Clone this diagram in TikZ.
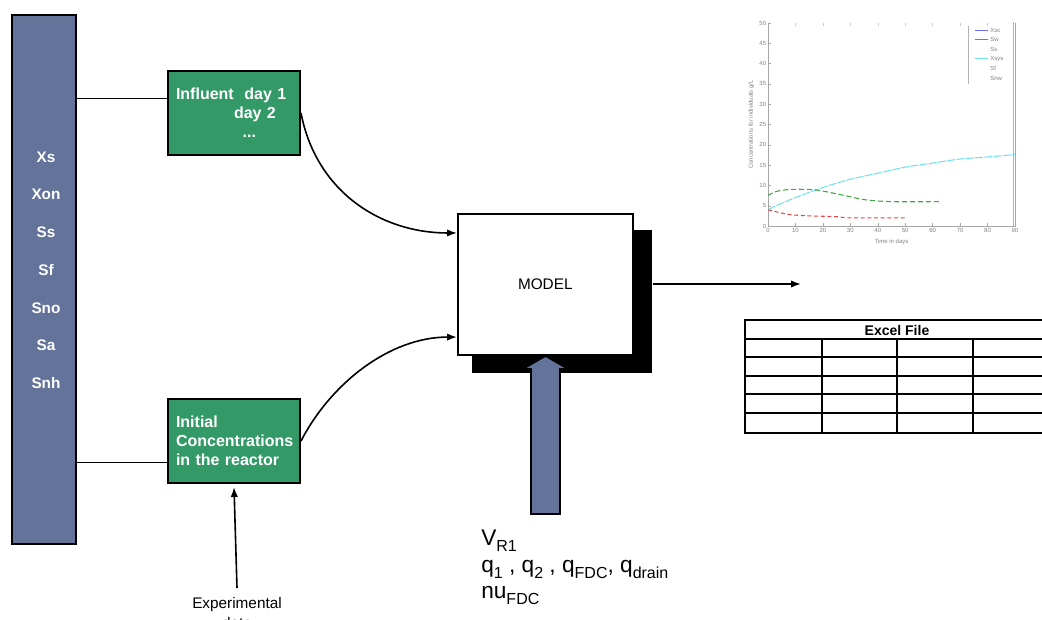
\documentclass[tikz,border=0pt]{standalone}
\usepackage{fontspec}
\setmainfont{Liberation Sans}
\usetikzlibrary{arrows.meta,calc}

\definecolor{barblue}{RGB}{99,115,154}
\definecolor{boxgreen}{RGB}{51,153,102}
\definecolor{curvecyan}{RGB}{110,225,235}
\definecolor{curvegreen}{RGB}{70,165,70}
\definecolor{curvered}{RGB}{235,70,70}
\definecolor{curveblue}{RGB}{110,110,235}

% lowered subscript in the parameter list
\newcommand{\lowsub}[1]{\raisebox{-5pt}{\fontsize{12}{13}\selectfont #1}}

\tikzset{
  varbar/.style={draw=black, line width=1.5pt, fill=barblue, anchor=north west, inner sep=0pt},
  varlabel/.style={text=white, font=\fontsize{11.5}{13}\selectfont\bfseries, inner sep=0pt},
  greenbox/.style={draw=black, line width=1.5pt, fill=boxgreen, anchor=north west,
    text=white, font=\fontsize{12}{14.25}\selectfont\bfseries, align=left,
    text width=87pt, inner xsep=6pt, inner ysep=0pt, minimum width=99pt, minimum height=63pt},
  modelbox/.style={draw=black, line width=1.2pt, fill=white, anchor=north west, inner sep=0pt,
    minimum width=131.25pt, minimum height=105.75pt, font=\fontsize{11.5}{13}\selectfont},
  shadowbox/.style={fill=black, anchor=north west, inner sep=0pt,
    minimum width=135pt, minimum height=107.25pt},
  conn/.style={line width=1.2pt, draw=black},
  arr/.style={conn, -{Latex[length=7.5pt,width=5.5pt]}},
  param/.style={anchor=base west, inner sep=0pt, font=\fontsize{17}{19}\selectfont},
  smalltxt/.style={inner sep=0pt, font=\fontsize{11.5}{15}\selectfont},
  tick/.style={inner sep=0pt, text=gray, font=\fontsize{4.5}{5}\selectfont},
  tbl/.style={line width=2.2pt, draw=black},
}

\begin{document}
\begin{tikzpicture}[x=0.75pt, y=-0.75pt]
\useasboundingbox (0,0) rectangle (1042,619);

% ---- state variables column ----
\node[varbar, minimum width=48pt, minimum height=396.75pt] (bar) at (11,14) {};
\foreach \name [count=\i from 0] in {Xs,Xon,Ss,Sf,Sno,Sa,Snh}
  \node[varlabel] (v\i) at (46,{157+37.7*\i}) {\name};

% ---- input boxes ----
\node[greenbox] (influent) at (167,70) {Influent\ \ day 1\\ \hspace*{43.5pt}day 2\\ \hspace*{50pt}...};
\node[greenbox] (initial) at (167,398) {Initial\\ Concentrations\\ in the reactor};

\coordinate (inA) at ($(influent.north west)!0.333!(influent.south west)$);
\coordinate (inB) at ($(initial.north west)!0.75!(initial.south west)$);
\draw[conn] (bar.east |- inA) -- (inA);
\draw[conn] (bar.east |- inB) -- (inB);

% ---- model block with its drop shadow ----
\node[shadowbox] (shadow) at (472,230) {};
\node[modelbox] (model) at (457,213) {MODEL};

\coordinate (mA) at ($(model.north west)!0.14!(model.south west)$);
\coordinate (mB) at ($(model.north west)!0.87!(model.south west)$);
\draw[arr] (influent.east) .. controls +(15,78) and +(-77,0) .. (mA);
\draw[arr] (initial.east) .. controls +(30,-58) and +(-67,0) .. (mB);

% ---- experimental data feed ----
\node[smalltxt, anchor=north, align=center] (expt) at (237,597) {Experimental\\data};
\draw[arr] ([yshift=6.75pt]expt.north) -- ([yshift=-2.25pt]initial.south);

% ---- parameter arrow ----
\draw[line width=1.2pt, fill=barblue] (531,514) -- (531,369) -- (523,369) -- (545.5,356)
  -- (568,369) -- (560,369) -- (560,514) -- cycle;
\node[param] (pV) at (481,545) {V\lowsub{R1}};
\node[param] (pQ) at (481,572) {q\lowsub{1} , q\lowsub{2} , q\lowsub{FDC}, q\lowsub{drain}};
\node[param] (pN) at (481,598) {nu\lowsub{FDC}};

% ---- output ----
\coordinate (outEnd) at (801,284);
\draw[arr] (shadow.east |- outEnd) -- (outEnd);

% ---- result plot ----
\begin{scope}[shift={(768,226)}, x=2.058pt, y=3.045pt]
  \draw[gray!70, line width=0.4pt] (0,50) -- (0,0) -- (90,0) -- (90,50);
  \foreach \t in {0,10,...,90} {
    \draw[gray!70, line width=0.3pt] (\t,0) -- (\t,0.8);
    \node[tick, anchor=north] (xt\t) at (\t,-0.6) {\t};
  }
  \foreach \t in {10,20,...,80}
    \draw[gray!40, line width=0.3pt] (\t,50) -- (\t,49.2);
  \foreach \c in {0,5,...,50} {
    \draw[gray!70, line width=0.3pt] (0,\c) -- (1,\c);
    \node[tick, anchor=east] (yt\c) at (-0.6,\c) {\c};
  }
  \node[tick, anchor=north] (xlab) at (45,-3.2) {Time in days};
  \node[tick, rotate=90, anchor=south] (ylab) at (-5,25) {Concentrations for individuals g/L};
  % simulated concentrations
  \draw[curvecyan, line width=0.8pt, dash pattern=on 6pt off 1pt]
    plot[smooth] coordinates {(0,4) (3,5) (10,7) (20,9.5) (30,11.5) (40,13) (50,14.5)
      (60,15.5) (70,16.5) (80,17) (90,17.6)};
  \draw[curvegreen, line width=0.8pt, dash pattern=on 4pt off 2pt]
    plot[smooth] coordinates {(0,7.5) (3,8.5) (8,9) (15,9) (20,8.6) (28,7.5) (35,6.5)
      (45,6) (63,6)};
  \draw[curvered, line width=0.8pt, dash pattern=on 3pt off 2pt]
    plot[smooth] coordinates {(0,4) (3,3.5) (8,2.8) (15,2.5) (25,2.3) (30,2) (50,2)};
\end{scope}
% plot legend
\draw[gray!60, line width=0.3pt] (968,26) -- (968,84);
\draw[gray!60, line width=0.3pt] (1013,22) -- (1013,226);
\foreach \lab/\col [count=\i from 0] in {Xsc/curveblue,Sw/curvegreen,Ss/white,Xsys/curvecyan,Sf/white,Snw/white} {
  \draw[\col, line width=0.6pt] (975,{30+9.6*\i}) -- (988,{30+9.6*\i});
  \node[tick, anchor=west] (lg\i) at (990,{30+9.6*\i}) {\lab};
}

% ---- spreadsheet ----
\foreach \yy in {320,339,357,376,394,413,433}
  \draw[tbl] (745,\yy) -- (1050,\yy);
\draw[tbl] (745,319) -- (745,434);
\foreach \xx in {822,897,973}
  \draw[tbl] (\xx,339) -- (\xx,433);
\node[inner sep=0pt, font=\fontsize{10.5}{12}\selectfont\bfseries] (excel) at (897,330) {Excel File};
\end{tikzpicture}
\end{document}
